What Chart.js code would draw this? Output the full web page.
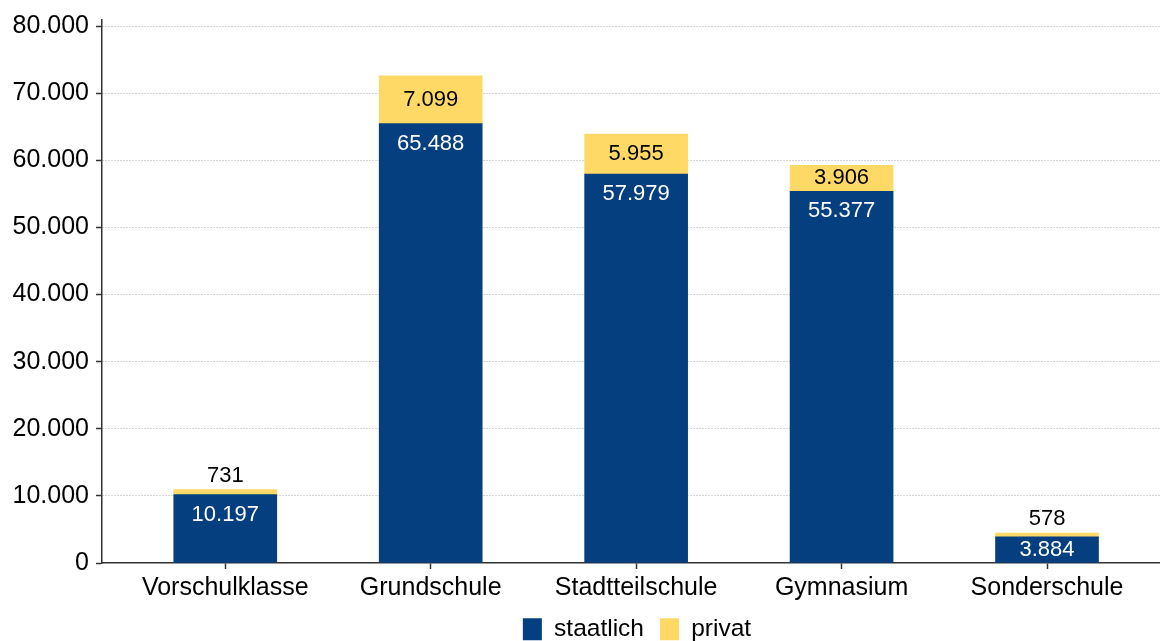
<!DOCTYPE html>
<html>
<head>
<meta charset="utf-8">
<script src="https://cdn.jsdelivr.net/npm/chart.js@4/dist/chart.umd.min.js"></script>
<style>
  html, body { margin: 0; padding: 0; background: #fff; overflow: hidden; }
  #wrap { width: 1160px; height: 641px; }
</style>
</head>
<body>
<div id="wrap"><canvas id="chart" width="1160" height="641"></canvas></div>
<script>
const categories = ['Vorschulklasse', 'Grundschule', 'Stadtteilschule', 'Gymnasium', 'Sonderschule'];
const staatlich = [10197, 65488, 57979, 55377, 3884];
const privat = [731, 7099, 5955, 3906, 578];
const yTicks = [0, 10000, 20000, 30000, 40000, 50000, 60000, 70000, 80000];

const FONT = '"Liberation Sans", Arial, sans-serif';
const BLUE = '#063f80';
const YELLOW = '#ffd966';

// 10000 -> "10.000"
const fmt = v => String(v).replace(/\B(?=(\d{3})+(?!\d))/g, '.');

const toPoints = arr => arr.map((v, i) => ({ x: i + 1, y: v }));

const barLabels = {
    id: 'barLabels',
    afterDatasetsDraw(chart) {
        const ctx = chart.ctx;
        ctx.save();
        ctx.font = `22px ${FONT}`;
        ctx.textAlign = 'center';
        ctx.textBaseline = 'middle';
        chart.data.datasets.forEach((ds, di) => {
            chart.getDatasetMeta(di).data.forEach((bar, i) => {
                const top = bar.y, base = bar.base;
                const mid = (top + base) / 2;
                let y;
                if (di === 0) {
                    y = Math.min(top + 20, mid);
                    ctx.fillStyle = '#fff';
                } else {
                    y = (base - top) >= 20 ? mid : top - 14;
                    ctx.fillStyle = '#000';
                }
                ctx.fillText(fmt(ds.data[i].y), bar.x, y);
            });
        });
        ctx.restore();
    }
};

// legend sits a bit right of the canvas centre, like the original
const legendShift = {
    id: 'legendShift',
    afterLayout(chart) {
        chart.legend.left += 57;
        chart.legend.right += 57;
    }
};

new Chart(document.getElementById('chart'), {
    type: 'bar',
    data: {
        datasets: [
            { label: 'staatlich', data: toPoints(staatlich), backgroundColor: BLUE, borderWidth: 0, barThickness: 103 },
            { label: 'privat', data: toPoints(privat), backgroundColor: YELLOW, borderWidth: 0, barThickness: 103 }
        ]
    },
    options: {
        responsive: false,
        animation: false,
        devicePixelRatio: 1,
        layout: { padding: { top: 17, right: 0, left: 0, bottom: -10.5 } },
        plugins: {
            tooltip: { enabled: false },
            legend: {
                position: 'bottom',
                labels: {
                    font: { family: FONT, size: 24.5 },
                    color: '#000',
                    boxWidth: 19,
                    boxHeight: 22,
                    padding: 16
                }
            }
        },
        scales: {
            x: {
                type: 'linear',
                stacked: true,
                offset: false,
                min: 0.4,
                max: 5.55,
                afterBuildTicks: s => { s.ticks = categories.map((c, i) => ({ value: i + 1 })); },
                afterFit: s => { s.height = 38; },
                ticks: {
                    callback: v => categories[v - 1],
                    font: { family: FONT, size: 25 },
                    color: '#000',
                    padding: 4,
                    maxRotation: 0,
                    autoSkip: false
                },
                grid: { offset: false, drawOnChartArea: false, tickLength: 6, tickColor: '#333', tickWidth: 1.5 },
                border: { color: '#333', width: 1.5 }
            },
            y: {
                stacked: true,
                min: 0,
                max: 81000,
                afterBuildTicks: s => { s.ticks = yTicks.map(v => ({ value: v })); },
                afterFit: s => { s.width = 102; },
                ticks: {
                    callback: v => fmt(v),
                    font: { family: FONT, size: 25, lineHeight: 1 },
                    color: '#000',
                    padding: 7
                },
                grid: {
                    color: c => (c.tick && c.tick.value === 0) ? 'rgba(0,0,0,0)' : '#aaa',
                    lineWidth: 1,
                    tickLength: 6,
                    tickColor: '#333',
                    tickWidth: 1.5,
                    tickBorderDash: []
                },
                border: { color: '#333', width: 1.5, dash: [1, 2] }
            }
        }
    },
    plugins: [barLabels, legendShift]
});
</script>
</body>
</html>
